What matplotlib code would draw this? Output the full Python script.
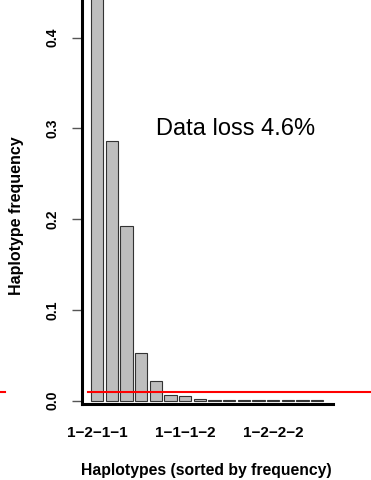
import matplotlib
matplotlib.use("Agg")
import matplotlib.pyplot as plt

plt.rcParams['font.family'] = ['Liberation Sans', 'DejaVu Sans']

# haplotype frequencies, sorted
haplotypes = ['1-2-1-1', 'h2', 'h3', 'h4', 'h5', 'h6', '1-1-1-2', 'h8',
              'h9', 'h10', 'h11', 'h12', '1-2-2-2', 'h14', 'h15', 'h16']
freqs = [0.46, 0.286, 0.193, 0.053, 0.022, 0.006, 0.0048, 0.002,
         0.0002, 0.0002, 0.0002, 0.0002, 0.0002, 0.0002, 0.0002, 0.0002]
shown_labels = ['1-2-1-1', '1-1-1-2', '1-2-2-2']
threshold = 0.01
data_loss = 4.6

fig = plt.figure(figsize=(3.71, 4.80), dpi=100)
ax = fig.add_axes([81.7 / 371, 76 / 480, 251 / 371, 404 / 480])

# R barplot layout: width 1, space 0.2
centers = [0.2 + 1.2 * i + 0.5 for i in range(len(freqs))]
ax.bar(centers, freqs, width=1.0, color='#bebebe', edgecolor='#333333', linewidth=0.8)

ax.set_xlim(-0.56, 19.96)
ax.set_ylim(-0.0037, 0.4415)

# threshold line (extends outside the plot region)
ax.axhline(threshold, xmin=0.025, xmax=1.2, color='red', lw=1.5, clip_on=False, zorder=5)
ax.axhline(threshold, xmin=-0.33, xmax=-0.306, color='red', lw=1.5, clip_on=False, zorder=5)

for s in ['top', 'right']:
    ax.spines[s].set_visible(False)
for s in ['left', 'bottom']:
    ax.spines[s].set_linewidth(2.2)

ax.set_yticks([0.0, 0.1, 0.2, 0.3, 0.4])
ax.set_yticklabels(['0.0', '0.1', '0.2', '0.3', '0.4'], fontsize=10, fontweight='bold')
ax.tick_params(axis='y', length=7, width=1, color='#555555', pad=9, labelrotation=90)
for t in ax.get_yticklabels():
    t.set_va('center')
    t.set_ha('right')

tick_pos = [centers[haplotypes.index(h)] for h in shown_labels]
ax.set_xticks(tick_pos)
ax.set_xticklabels([h.replace('-', '\u2212') for h in shown_labels], fontsize=11, fontweight='bold')
ax.tick_params(axis='x', length=0, pad=16)

ax.text(12.0, 0.299, 'Data loss %.1f%%' % data_loss, fontsize=17, ha='center', va='center')

fig.text(206.7 / 371, 1 - 470 / 480, 'Haplotypes (sorted by frequency)', fontsize=11.3,
         fontweight='bold', ha='center', va='center')
fig.text(17 / 371, 1 - 216 / 480, 'Haplotype frequency', fontsize=11.5,
         fontweight='bold', ha='center', va='center', rotation=90)

fig.savefig('out.png', dpi=100)
